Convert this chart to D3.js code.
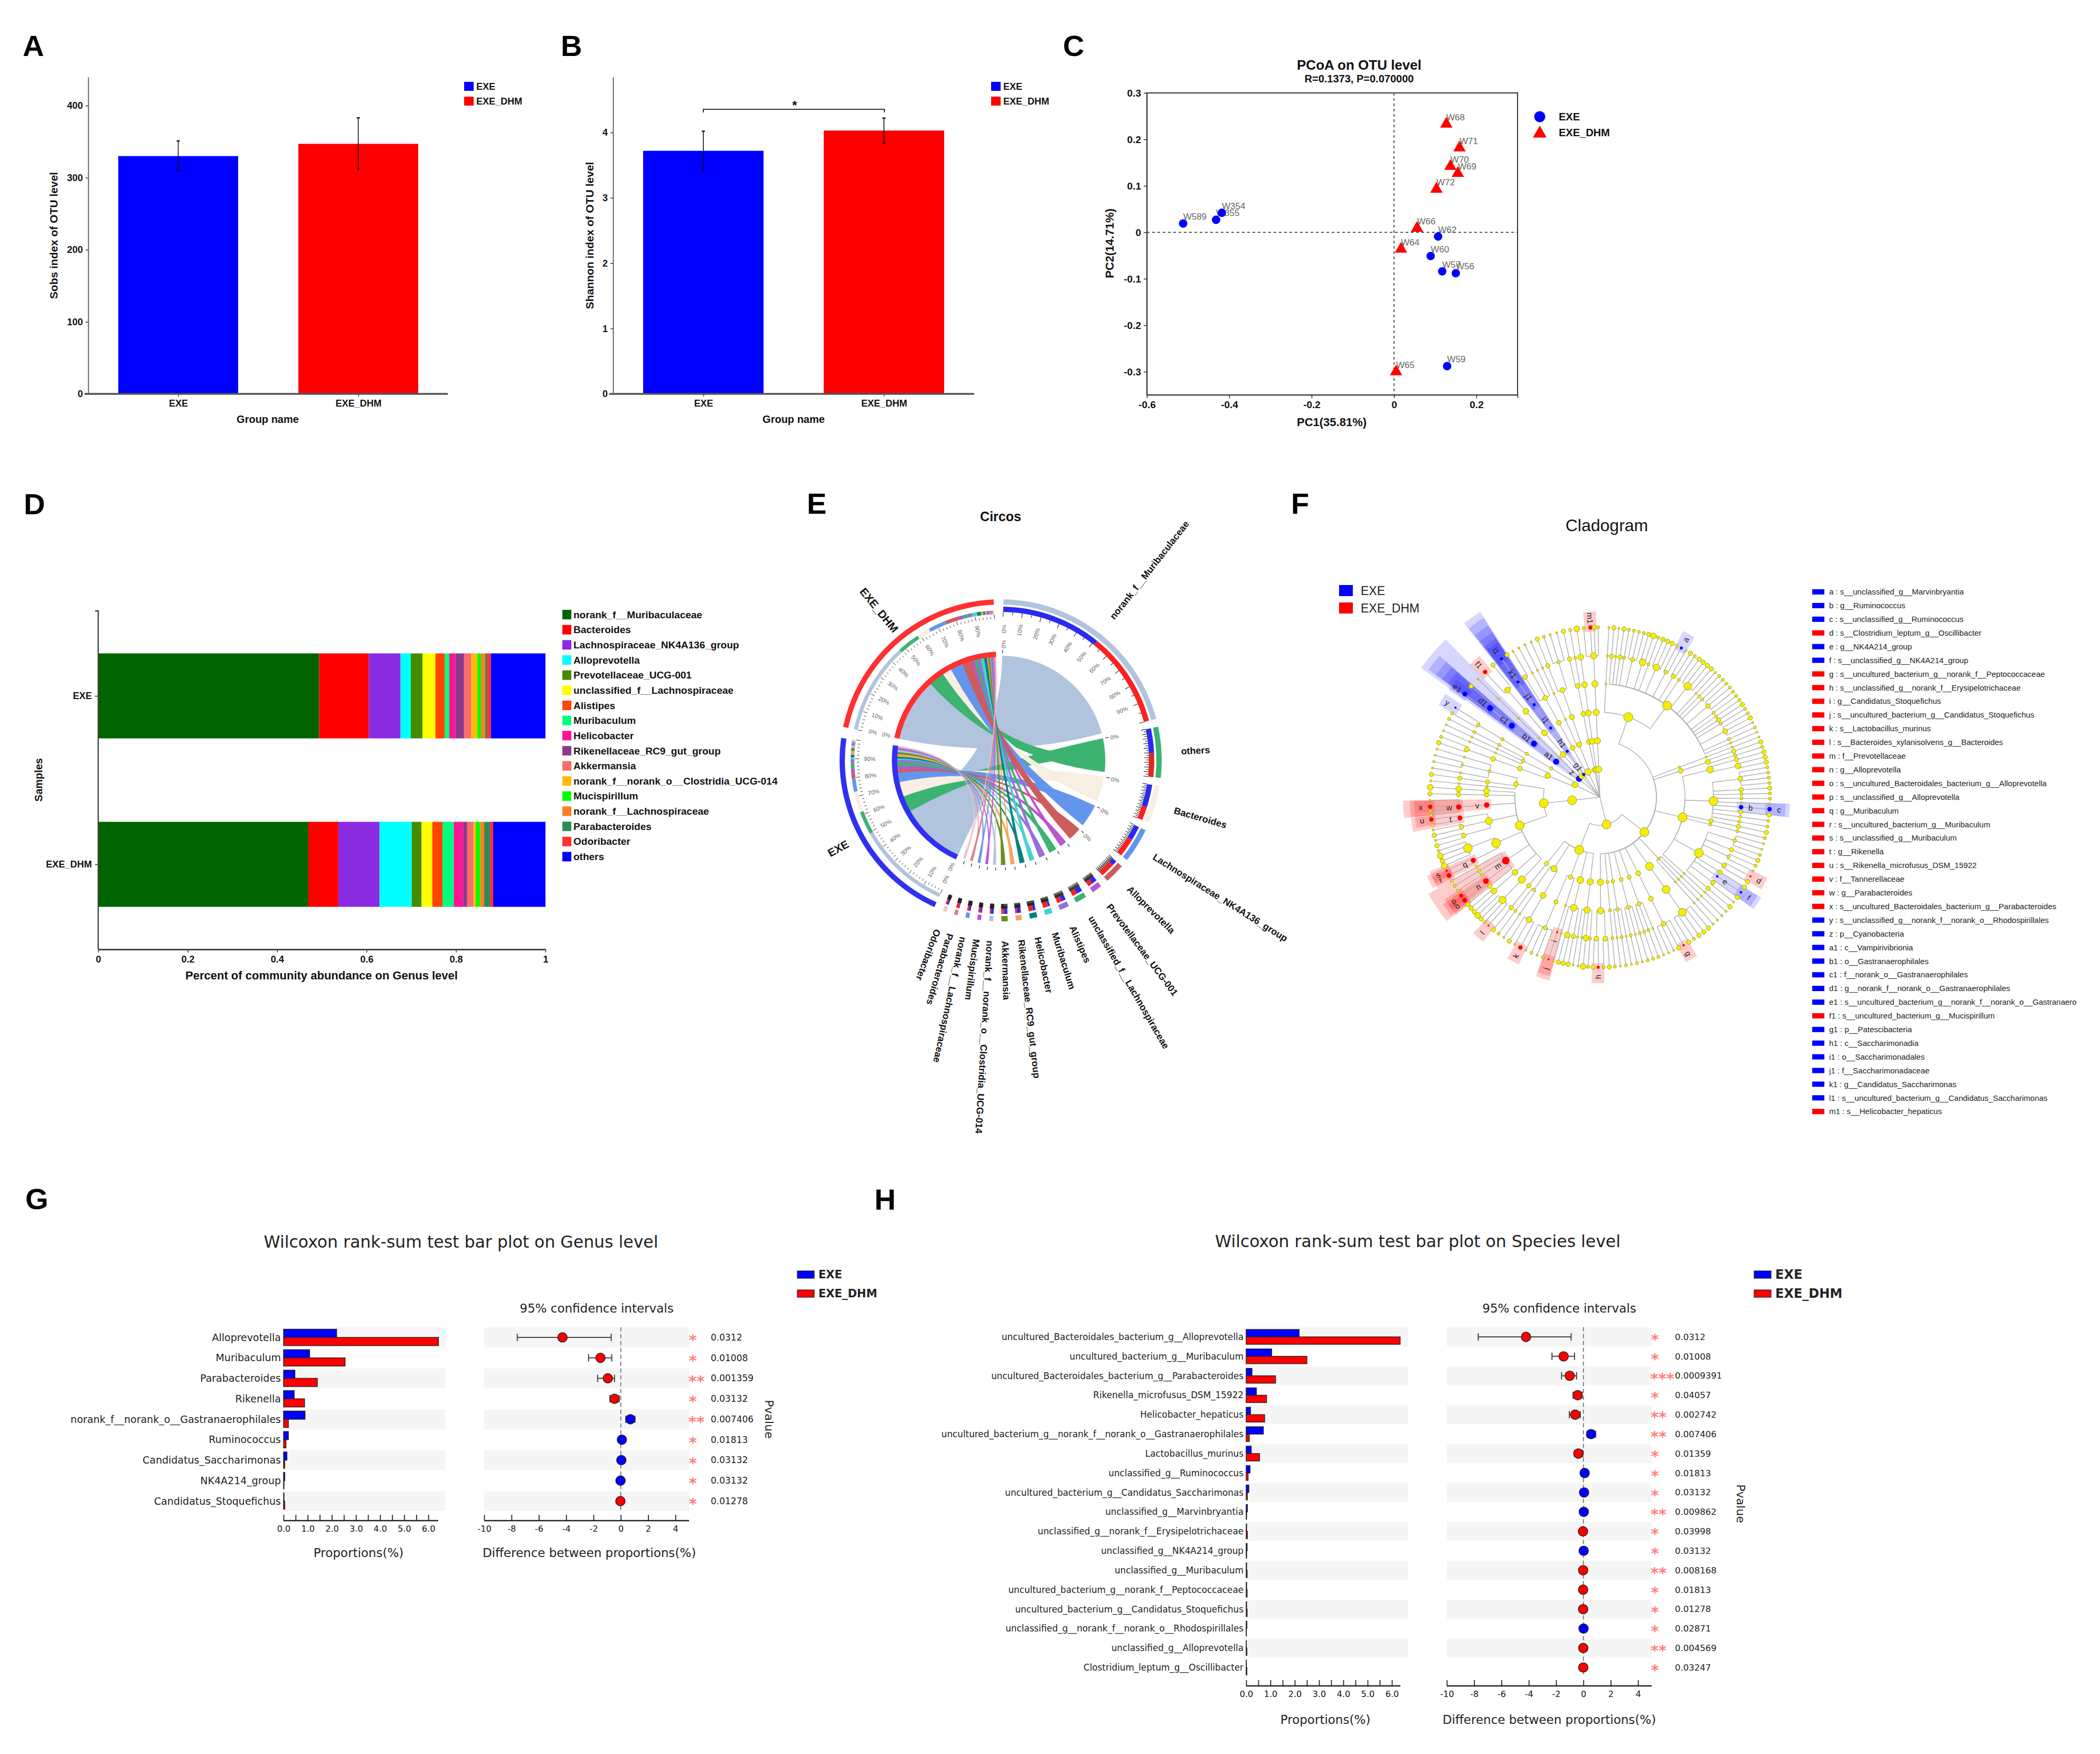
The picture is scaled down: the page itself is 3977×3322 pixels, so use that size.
<!DOCTYPE html>
<html><head><meta charset="utf-8">
<script src="https://cdn.jsdelivr.net/npm/d3@7"></script>
<style>html,body{margin:0;padding:0;background:#fff}svg{display:block}</style>
</head><body><div id="chart"></div>
<script>
// ---------- DATA ----------
const groups = ["EXE", "EXE_DHM"];
const groupColors = ["#0000ff", "#ff0000"];
const sobsMeans = [330, 347];
const sobsLow = [310, 312];
const sobsHigh = [351, 383];
const sobsTicks = [0, 100, 200, 300, 400];
const shannonMeans = [3.72, 4.03];
const shannonLow = [3.42, 3.84];
const shannonHigh = [4.02, 4.22];
const shannonTicks = [0, 1, 2, 3, 4];

const pcoaExeNames = ["W354", "W355", "W589", "W62", "W60", "W57", "W56", "W59"];
const pcoaExeX = [-0.418, -0.432, -0.512, 0.107, 0.089, 0.117, 0.15, 0.129];
const pcoaExeY = [0.042, 0.027, 0.019, -0.009, -0.051, -0.084, -0.088, -0.288];
const pcoaDhmNames = ["W68", "W71", "W70", "W69", "W72", "W66", "W64", "W65"];
const pcoaDhmX = [0.127, 0.159, 0.137, 0.155, 0.103, 0.056, 0.017, 0.005];
const pcoaDhmY = [0.233, 0.182, 0.142, 0.127, 0.093, 0.009, -0.036, -0.3];
const pcoaXTicks = [-0.6, -0.4, -0.2, 0, 0.2, 0.3];
const pcoaYTicks = [-0.3, -0.2, -0.1, 0, 0.1, 0.2, 0.3];

const genusNames = ["norank_f__Muribaculaceae", "Bacteroides", "Lachnospiraceae_NK4A136_group", "Alloprevotella", "Prevotellaceae_UCG-001", "unclassified_f__Lachnospiraceae", "Alistipes", "Muribaculum", "Helicobacter", "Rikenellaceae_RC9_gut_group", "Akkermansia", "norank_f__norank_o__Clostridia_UCG-014", "Mucispirillum", "norank_f__Lachnospiraceae", "Parabacteroides", "Odoribacter", "others"];
const genusColors = ["#006400", "#ff0000", "#8a2be2", "#00ffff", "#458b00", "#ffff00", "#ff4500", "#00ff7f", "#ff1493", "#8b3a8b", "#ff6a6a", "#ffb90f", "#00ff00", "#ff7f24", "#2e8b57", "#ff3030", "#0000ff"];
const genusExe = [0.494, 0.111, 0.071, 0.023, 0.026, 0.029, 0.021, 0.010, 0.014, 0.019, 0.016, 0.014, 0.008, 0.009, 0.004, 0.009, 0.122];
const genusDhm = [0.470, 0.067, 0.092, 0.072, 0.022, 0.024, 0.023, 0.025, 0.021, 0.009, 0.014, 0.005, 0.010, 0.009, 0.013, 0.007, 0.117];
const abundanceTicks = [0, 0.2, 0.4, 0.6, 0.8, 1];

// Circos: genus order around the ring and link colours
const circosOrder = [0, 16, 1, 2, 3, 4, 5, 6, 7, 8, 9, 10, 11, 12, 13, 14, 15];
const circosColors = ["#b0c4de", "#3cb371", "#f8eee2", "#6495ed", "#cd5c5c", "#ba55d3", "#3cb371", "#9370db", "#48d1cc", "#008080", "#f4a460", "#6b8e23", "#b0c4de", "#ba55d3", "#6495ed", "#e08090", "#f4c0cb"];
const circosPercentTicks = [10, 20, 30, 40, 50, 60, 70, 80, 90];

// Cladogram tree: phylum > class > order > family > genus (string of tips: 1-4 = tip size class, capitals = marked tips)
const clostridiaOrders = [
  [["1"], ["3", "1", "3", "2", "222", "34", "2", "333", "2A", "13", "2", "3333", "1", "2", "2", "222", "2", "2", "3", "2", "231", "2", "1"]],
  [["1"]],
  [["3", "2"]],
  [["3", "33"], ["2222", "3", "2", "2", "1", "C", "3", "2", "2"], ["3"], ["2"], ["112", "3", "21", "D3", "3", "F", "31", "3"], ["1"]],
  [["1"], ["1"], ["1"]],
  [["33323"]],
  [["G311"]],
  [["1", "2", "2"]],
  [["2", "1", "2"]],
  [["1", "2", "1"]],
  [["2"]],
  [["32", "H3"]]
];
const bacilliOrders = [
  [["2", "4", "1", "1"]],
  [["3", "33", "1"]],
  [["J"], ["2121"]],
  [["K13"], ["1", "2"]],
  [["3"]]
];
const bacteroidiaOrders = [
  [["L234"], ["33"], ["3", "OP", "2", "2", "2"], ["RS", "4342"], ["31", "31", "2U"], ["22X1"], ["3"], ["4"]],
  [["1"], ["3"], ["1", "11", "1"]]
];
const proteoClasses = [[[["32"]], [["1"], ["1"], ["2"]]], [[["2Y"]]]];
const cyanoClasses = [[[["E3"]]], [[["1"]]]];
const deferriClasses = [[[["Q3"]]]];
const patesciClasses = [[[["T"]]]];
const phylumAClasses = [[[["31", "1", "1"]]], [[["1"]], [["3", "211"]]]];
const phylumBClasses = [[[["3", "2"]]]];
const phylumCClasses = [[[["4"]]]];
const phylumDClasses = [[[["2M32"]]]];
const cladeTree = [[clostridiaOrders, bacilliOrders], [bacteroidiaOrders], proteoClasses, cyanoClasses, deferriClasses, patesciClasses, phylumAClasses, phylumBClasses, phylumCClasses, phylumDClasses];
const tipMarks = {A: ["a"], C: ["c", "b"], D: ["d"], F: ["f", "e"], G: ["g"], H: ["h"], J: ["j", "i"], K: ["k"], L: ["l"], O: ["o", "n", "m"], P: ["p"], R: ["r", "q"], S: ["s"], U: ["u", "t"], X: ["x", "w", "v"], Y: ["y"], E: ["e1", "d1", "c1", "b1", "a1", "z"], Q: ["f1"], T: ["l1", "k1", "j1", "i1", "h1", "g1"], M: ["m1"]};
const tipWeights = {1: 1, 2: 4, 3: 12, 4: 25, A: 4, C: 12, D: 1, F: 2, G: 2, H: 4, J: 1, K: 12, L: 1, O: 16, P: 8, R: 16, S: 2, U: 12, X: 12, Y: 1, E: 16, Q: 12, T: 4, M: 10};
const anchorTips = ["A", "C", "D", "F", "G", "H", "J", "K", "L", "O", "R", "U", "X", "Y", "E", "Q", "T", "M"];
const anchorDegrees = [28.6, 94, 117.7, 124, 150.5, 180.6, 197.6, 207.9, 221, 232.7, 242.6, 262.5, 266.8, 301.8, 307.4, 317.5, 324.6, 356.8];

const cladeKeyLabels = ["a : s__unclassified_g__Marvinbryantia", "b : g__Ruminococcus", "c : s__unclassified_g__Ruminococcus", "d : s__Clostridium_leptum_g__Oscillibacter", "e : g__NK4A214_group", "f : s__unclassified_g__NK4A214_group", "g : s__uncultured_bacterium_g__norank_f__Peptococcaceae", "h : s__unclassified_g__norank_f__Erysipelotrichaceae", "i : g__Candidatus_Stoquefichus", "j : s__uncultured_bacterium_g__Candidatus_Stoquefichus", "k : s__Lactobacillus_murinus", "l : s__Bacteroides_xylanisolvens_g__Bacteroides", "m : f__Prevotellaceae", "n : g__Alloprevotella", "o : s__uncultured_Bacteroidales_bacterium_g__Alloprevotella", "p : s__unclassified_g__Alloprevotella", "q : g__Muribaculum", "r : s__uncultured_bacterium_g__Muribaculum", "s : s__unclassified_g__Muribaculum", "t : g__Rikenella", "u : s__Rikenella_microfusus_DSM_15922", "v : f__Tannerellaceae", "w : g__Parabacteroides", "x : s__uncultured_Bacteroidales_bacterium_g__Parabacteroides", "y : s__unclassified_g__norank_f__norank_o__Rhodospirillales", "z : p__Cyanobacteria", "a1 : c__Vampirivibrionia", "b1 : o__Gastranaerophilales", "c1 : f__norank_o__Gastranaerophilales", "d1 : g__norank_f__norank_o__Gastranaerophilales", "e1 : s__uncultured_bacterium_g__norank_f__norank_o__Gastranaero", "f1 : s__uncultured_bacterium_g__Mucispirillum", "g1 : p__Patescibacteria", "h1 : c__Saccharimonadia", "i1 : o__Saccharimonadales", "j1 : f__Saccharimonadaceae", "k1 : g__Candidatus_Saccharimonas", "l1 : s__uncultured_bacterium_g__Candidatus_Saccharimonas", "m1 : s__Helicobacter_hepaticus"];
const cladeKeyGroups = [0, 0, 0, 1, 0, 0, 1, 1, 1, 1, 1, 1, 1, 1, 1, 1, 1, 1, 1, 1, 1, 1, 1, 1, 0, 0, 0, 0, 0, 0, 0, 1, 0, 0, 0, 0, 0, 0, 1];

// Wilcoxon on genus level
const gRows = ["Alloprevotella", "Muribaculum", "Parabacteroides", "Rikenella", "norank_f__norank_o__Gastranaerophilales", "Ruminococcus", "Candidatus_Saccharimonas", "NK4A214_group", "Candidatus_Stoquefichus"];
const gExe = [2.2, 1.08, 0.47, 0.44, 0.89, 0.2, 0.14, 0.05, 0.02];
const gDhm = [6.42, 2.55, 1.4, 0.87, 0.2, 0.1, 0.05, 0.02, 0.05];
const gDiff = [-4.27, -1.49, -0.95, -0.46, 0.7, 0.08, 0.04, -0.02, -0.03];
const gLow = [-7.58, -2.36, -1.7, -0.79, 0.37, -0.1, -0.1, -0.12, -0.12];
const gHigh = [-0.7, -0.66, -0.46, -0.12, 1.04, 0.25, 0.17, 0.08, 0.06];
const gWinner = [1, 1, 1, 1, 0, 0, 0, 0, 1];
const gStars = ["*", "*", "**", "*", "**", "*", "*", "*", "*"];
const gP = ["0.0312", "0.01008", "0.001359", "0.03132", "0.007406", "0.01813", "0.03132", "0.03132", "0.01278"];

// Wilcoxon on species level
const sRows = ["uncultured_Bacteroidales_bacterium_g__Alloprevotella", "uncultured_bacterium_g__Muribaculum", "uncultured_Bacteroidales_bacterium_g__Parabacteroides", "Rikenella_microfusus_DSM_15922", "Helicobacter_hepaticus", "uncultured_bacterium_g__norank_f__norank_o__Gastranaerophilales", "Lactobacillus_murinus", "unclassified_g__Ruminococcus", "uncultured_bacterium_g__Candidatus_Saccharimonas", "unclassified_g__Marvinbryantia", "unclassified_g__norank_f__Erysipelotrichaceae", "unclassified_g__NK4A214_group", "unclassified_g__Muribaculum", "uncultured_bacterium_g__norank_f__Peptococcaceae", "uncultured_bacterium_g__Candidatus_Stoquefichus", "unclassified_g__norank_f__norank_o__Rhodospirillales", "unclassified_g__Alloprevotella", "Clostridium_leptum_g__Oscillibacter"];
const sExe = [2.18, 1.05, 0.24, 0.42, 0.18, 0.71, 0.21, 0.16, 0.11, 0.05, 0.02, 0.04, 0.02, 0.02, 0.02, 0.03, 0.01, 0.01];
const sDhm = [6.34, 2.5, 1.21, 0.84, 0.76, 0.13, 0.55, 0.08, 0.05, 0.02, 0.05, 0.02, 0.04, 0.04, 0.04, 0.01, 0.03, 0.03];
const sDiff = [-4.2, -1.45, -1, -0.42, -0.6, 0.56, -0.37, 0.09, 0.05, 0.03, -0.03, 0.02, -0.02, -0.02, -0.02, 0.01, -0.01, -0.01];
const sLow = [-7.7, -2.3, -1.6, -0.75, -1.03, 0.28, -0.65, -0.05, -0.05, -0.03, -0.1, -0.03, -0.07, -0.07, -0.07, -0.03, -0.05, -0.05];
const sHigh = [-0.9, -0.65, -0.5, -0.1, -0.23, 0.89, -0.05, 0.2, 0.15, 0.08, 0.02, 0.07, 0.02, 0.02, 0.02, 0.05, 0.02, 0.02];
const sWinner = [1, 1, 1, 1, 1, 0, 1, 0, 0, 0, 1, 0, 1, 1, 1, 0, 1, 1];
const sStars = ["*", "*", "***", "*", "**", "**", "*", "*", "*", "**", "*", "*", "**", "*", "*", "*", "**", "*"];
const sP = ["0.0312", "0.01008", "0.0009391", "0.04057", "0.002742", "0.007406", "0.01359", "0.01813", "0.03132", "0.009862", "0.03998", "0.03132", "0.008168", "0.01813", "0.01278", "0.02871", "0.004569", "0.03247"];
const propTicks = d3.range(0, 6.5, 0.5);
const diffTicks = [-10, -8, -6, -4, -2, 0, 2, 4];

// ---------- HELPERS ----------
const ARIAL = "'Liberation Sans', Arial, sans-serif";
const DEJA = "'DejaVu Sans', sans-serif";
const svg = d3.select("#chart").append("svg").attr("width", 3977).attr("height", 3322).attr("viewBox", "0 0 3977 3322");
svg.append("rect").attr("width", 3977).attr("height", 3322).attr("fill", "#fff");

function txt(g, x, y, s, o = {}) {
  const t = g.append("text").attr("x", x).attr("y", y).attr("dy", o.dy ?? "0.35em").text(s)
    .attr("font-family", o.f || ARIAL).attr("font-size", o.s || 18)
    .attr("font-weight", o.w || "normal").attr("text-anchor", o.a || "start").attr("fill", o.c || "#111");
  if (o.rot !== undefined) t.attr("transform", `rotate(${o.rot} ${x} ${y})`);
  return t;
}
function styleAxis(g, o = {}) {
  g.selectAll("text").attr("font-family", o.f || ARIAL).attr("font-size", o.s || 18)
    .attr("font-weight", o.w || "bold").attr("fill", o.c || "#111");
  g.selectAll("line").attr("stroke", o.stroke || "#222").attr("stroke-width", o.tw || 1.6);
  g.selectAll("path.domain").attr("stroke", o.stroke || "#222").attr("stroke-width", o.dw || 1.6);
  return g;
}
[["A", 43, 106], ["B", 1062, 106], ["C", 2013, 106], ["D", 45, 974], ["E", 1528, 973], ["F", 2445, 973], ["G", 48, 2290], ["H", 1656, 2291]]
  .forEach(d => txt(svg, d[1], d[2], d[0], {s: 56, w: "bold", dy: 0, c: "#000"}));

// ---------- A / B : bars ----------
function barPanel(cfg) {
  const g = svg.append("g");
  const y = d3.scaleLinear().domain([0, cfg.yMax]).range([746, 146]);
  const x = d3.scalePoint().domain(groups).range(cfg.xRange);
  g.selectAll("rect.b").data(groups).join("rect").attr("x", d => x(d) - cfg.bw / 2).attr("width", cfg.bw)
    .attr("y", (d, i) => y(cfg.means[i])).attr("height", (d, i) => y(0) - y(cfg.means[i])).attr("fill", (d, i) => groupColors[i]);
  groups.forEach((d, i) => {
    g.append("line").attr("x1", x(d)).attr("x2", x(d)).attr("y1", y(cfg.low[i])).attr("y2", y(cfg.high[i])).attr("stroke", "#111").attr("stroke-width", 1.6);
    [cfg.low[i], cfg.high[i]].forEach(v => g.append("line").attr("x1", x(d) - 3).attr("x2", x(d) + 3).attr("y1", y(v)).attr("y2", y(v)).attr("stroke", "#111").attr("stroke-width", 2.4));
  });
  const ya = g.append("g").attr("transform", `translate(${cfg.axisX},0)`).call(d3.axisLeft(y).tickValues(cfg.ticks).tickSize(5).tickPadding(5).tickSizeOuter(0).tickFormat(d3.format("~g")));
  styleAxis(ya, {s: 18, stroke: "#444"});
  const xa = g.append("g").attr("transform", "translate(0,746)").call(d3.axisBottom(x).tickSize(5).tickPadding(6).tickSizeOuter(0));
  xa.select("path.domain").remove();
  styleAxis(xa, {s: 18, stroke: "#444"});
  g.append("line").attr("x1", cfg.axisX - 7).attr("x2", cfg.axisEnd).attr("y1", 746).attr("y2", 746).attr("stroke", "#555").attr("stroke-width", 3.5);
  txt(g, cfg.ylabelX, 446, cfg.ylabel, {s: 21, w: "bold", a: "middle", rot: -90});
  txt(g, cfg.xlabelX, 794, "Group name", {s: 20, w: "bold", a: "middle"});
  groups.forEach((d, i) => {
    g.append("rect").attr("x", cfg.legendX).attr("y", 155 + i * 28).attr("width", 18).attr("height", 17).attr("fill", groupColors[i]);
    txt(g, cfg.legendX + 23, 163.5 + i * 28, d, {s: 18, w: "bold"});
  });
  return {g, x, y};
}
barPanel({yMax: 439.6, means: sobsMeans, low: sobsLow, high: sobsHigh, ticks: sobsTicks, xRange: [337.5, 678.5], bw: 227, axisX: 167, axisEnd: 848, ylabel: "Sobs index of OTU level", ylabelX: 102, xlabelX: 507, legendX: 879});
const bp = barPanel({yMax: 4.848, means: shannonMeans, low: shannonLow, high: shannonHigh, ticks: shannonTicks, xRange: [1332, 1674], bw: 228, axisX: 1161, axisEnd: 1845, ylabel: "Shannon index of OTU level", ylabelX: 1117, xlabelX: 1503, legendX: 1877});
bp.g.append("path").attr("d", "M1332 213V207H1675V213").attr("fill", "none").attr("stroke", "#333").attr("stroke-width", 2);
txt(bp.g, 1505, 200, "*", {s: 24, w: "bold", a: "middle"});

// ---------- C : PCoA ----------
(function () {
  const g = svg.append("g");
  const x = d3.scaleLinear().domain([-0.6, 0.3]).range([2172, 2874]);
  const y = d3.scaleLinear().domain([-0.35, 0.3]).range([748, 176]);
  g.append("rect").attr("x", 2172).attr("y", 176).attr("width", 702).attr("height", 572).attr("fill", "none").attr("stroke", "#333").attr("stroke-width", 2);
  g.append("line").attr("x1", x(0)).attr("x2", x(0)).attr("y1", 176).attr("y2", 748).attr("stroke", "#555").attr("stroke-width", 2).attr("stroke-dasharray", "5 5");
  g.append("line").attr("x1", 2172).attr("x2", 2874).attr("y1", y(0)).attr("y2", y(0)).attr("stroke", "#555").attr("stroke-width", 2).attr("stroke-dasharray", "5 5");
  const xa = g.append("g").attr("transform", "translate(0,748)").call(d3.axisBottom(x).tickValues(pcoaXTicks).tickSize(6).tickPadding(6).tickSizeOuter(0).tickFormat(d => d === 0.3 ? "" : d3.format("~g")(d).replace("−", "-")));
  styleAxis(xa, {s: 19, stroke: "#333"});
  const ya = g.append("g").attr("transform", "translate(2172,0)").call(d3.axisLeft(y).tickValues(pcoaYTicks).tickSize(6).tickPadding(5).tickSizeOuter(0).tickFormat(d => d3.format("~g")(d).replace("−", "-")));
  styleAxis(ya, {s: 19, stroke: "#333"});
  txt(g, 2574, 123, "PCoA on OTU level", {s: 26, w: "bold", a: "middle"});
  txt(g, 2574, 149, "R=0.1373, P=0.070000", {s: 20, w: "bold", a: "middle"});
  txt(g, 2522, 799, "PC1(35.81%)", {s: 22, w: "bold", a: "middle"});
  txt(g, 2101, 461, "PC2(14.71%)", {s: 22, w: "bold", a: "middle", rot: -90});
  const tri = d3.symbol().type(d3.symbolTriangle).size(240);
  pcoaDhmNames.forEach((n, i) => txt(g, x(pcoaDhmX[i]), y(pcoaDhmY[i]) - 13, n, {s: 17, c: "#666"}));
  pcoaExeNames.forEach((n, i) => txt(g, x(pcoaExeX[i]), y(pcoaExeY[i]) - 13, n, {s: 17, c: "#666"}));
  g.selectAll("path.t").data(pcoaDhmNames).join("path").attr("d", tri).attr("fill", "#ff0000")
    .attr("transform", (d, i) => `translate(${x(pcoaDhmX[i])},${y(pcoaDhmY[i])})`);
  g.selectAll("circle.e").data(pcoaExeNames).join("circle").attr("r", 8).attr("fill", "#0000ff")
    .attr("cx", (d, i) => x(pcoaExeX[i])).attr("cy", (d, i) => y(pcoaExeY[i]));
  g.append("circle").attr("cx", 2916).attr("cy", 221).attr("r", 10.5).attr("fill", "#0000ff");
  g.append("path").attr("d", tri).attr("fill", "#ff0000").attr("transform", "translate(2916,253) scale(1.1)");
  txt(g, 2952, 221, "EXE", {s: 20, w: "bold"});
  txt(g, 2952, 251, "EXE_DHM", {s: 20, w: "bold"});
})();

// ---------- D : stacked bars ----------
(function () {
  const g = svg.append("g");
  const x = d3.scaleLinear().domain([0, 1]).range([186, 1033]);
  const y = d3.scalePoint().domain(groups).range([1318, 1637]);
  const stack = d3.stack().keys(d3.range(genusNames.length)).value((row, k) => row[k]);
  const layers = stack([genusExe, genusDhm]);
  layers.forEach((layer, k) => g.selectAll(null).data(layer).join("rect")
    .attr("x", d => x(d[0])).attr("width", d => x(d[1]) - x(d[0]))
    .attr("y", (d, i) => y(groups[i]) - 80.5).attr("height", 161).attr("fill", genusColors[k]));
  const ya = g.append("g").attr("transform", "translate(186,0)").call(d3.axisLeft(y).tickSize(6).tickPadding(6).tickSizeOuter(0));
  ya.select("path.domain").remove();
  styleAxis(ya, {s: 18, stroke: "#333"});
  g.append("path").attr("d", "M180 1157H186V1798").attr("fill", "none").attr("stroke", "#444").attr("stroke-width", 2.4);
  const xa = g.append("g").attr("transform", "translate(0,1798)").call(d3.axisBottom(x).tickValues(abundanceTicks).tickSize(6).tickPadding(6).tickSizeOuter(0).tickFormat(d3.format("~g")));
  styleAxis(xa, {s: 18, stroke: "#444", dw: 3});
  txt(g, 73, 1477, "Samples", {s: 20, w: "bold", a: "middle", rot: -90});
  txt(g, 609, 1847, "Percent of community abundance on Genus level", {s: 22, w: "bold", a: "middle"});
  genusNames.forEach((n, i) => {
    g.append("rect").attr("x", 1065).attr("y", 1155 + i * 28.65).attr("width", 17).attr("height", 18).attr("fill", genusColors[i]);
    txt(g, 1086, 1164 + i * 28.65, n, {s: 19, w: "bold"});
  });
})();

// ---------- E : Circos ----------
(function () {
  const cx = 1895, cy = 1440, rad = Math.PI / 180;
  const g = svg.append("g").attr("transform", `translate(${cx},${cy})`);
  txt(svg, 1895, 978, "Circos", {s: 25, w: "bold", a: "middle"});
  const arc = d3.arc();
  const degPerUnit = 76.8, gap = 2.9;
  const genusSegs = [];
  let cursor = 1;
  circosOrder.forEach((gi, k) => {
    const e = genusExe[gi] * degPerUnit, d = genusDhm[gi] * degPerUnit;
    genusSegs.push({gi, k, a0: cursor, a1: cursor + e + d, mid: cursor + e, color: circosColors[k]});
    cursor += e + d + gap;
  });
  const sampleSegs = [{name: "EXE", a0: 204.3, a1: 278, share: genusExe, color: "#3030f0"}, {name: "EXE_DHM", a0: 282, a1: 357.5, share: genusDhm, color: "#ff3030"}];
  const A = (ri, ro, a0, a1) => arc({innerRadius: ri, outerRadius: ro, startAngle: a0 * rad, endAngle: a1 * rad});
  const ribbon = d3.ribbon().radius(198);
  sampleSegs.forEach(s => {
    s.scale = d3.scaleLinear().domain([0, 1]).range([s.a0, s.a1]);
    let acc = 0;
    s.parts = circosOrder.map((gi, k) => {
      const p = {k, a0: s.scale(acc), a1: s.scale(acc + s.share[gi])};
      acc += s.share[gi];
      return p;
    });
  });
  const links = [];
  genusSegs.forEach((seg, k) => {
    links.push({color: seg.color, source: {startAngle: seg.a0 * rad, endAngle: seg.mid * rad}, target: {startAngle: sampleSegs[0].parts[k].a0 * rad, endAngle: sampleSegs[0].parts[k].a1 * rad}});
    links.push({color: seg.color, source: {startAngle: seg.mid * rad, endAngle: seg.a1 * rad}, target: {startAngle: sampleSegs[1].parts[k].a0 * rad, endAngle: sampleSegs[1].parts[k].a1 * rad}});
  });
  g.selectAll("path.l").data(links).join("path").attr("d", d => ribbon(d)).attr("fill", d => d.color).attr("stroke", d => d.color).attr("stroke-width", 0.6);
  sampleSegs.forEach(s => {
    g.append("path").attr("d", A(295, 305, s.a0, s.a1)).attr("fill", s.color);
    g.append("path").attr("d", A(196, 206, s.a0, s.a1)).attr("fill", s.color);
    s.parts.forEach(p => g.append("path").attr("d", A(277, 284, p.a0, p.a1)).attr("fill", circosColors[p.k]));
    d3.range(0, 1.001, 0.02).forEach((v, i) => {
      const t = s.scale(v) * rad;
      g.append("line").attr("x1", 268 * Math.sin(t)).attr("y1", -268 * Math.cos(t)).attr("x2", (i % 5 ? 272 : 276) * Math.sin(t)).attr("y2", -(i % 5 ? 272 : 276) * Math.cos(t)).attr("stroke", "#333").attr("stroke-width", 1);
    });
    circosPercentTicks.forEach(v => radialLabel(s.scale(v / 100), 248, v + "%"));
    radialLabel(s.a0 + 0.5, 248, "0%");
    radialLabel(s.a0 + 0.5, 222, "0%");
    const labelA = s.name === "EXE" ? 241.5 : 321;
    const r = s.name === "EXE" ? 350 : 366;
    txt(g, r * Math.sin(labelA * rad), -r * Math.cos(labelA * rad), s.name, {s: 21, w: "bold", a: "middle", rot: labelA - 270});
  });
  function radialLabel(a, r, s) {
    const x = r * Math.sin(a * rad), y = -r * Math.cos(a * rad);
    txt(g, x, y, s, {s: 11, c: "#666", a: "middle", rot: a < 180 ? a - 90 : a - 270});
  }
  genusSegs.forEach(seg => {
    g.append("path").attr("d", A(295, 305, seg.a0, seg.a1)).attr("fill", seg.color);
    g.append("path").attr("d", A(281, 291, seg.a0, seg.mid)).attr("fill", "#2a2af0");
    g.append("path").attr("d", A(281, 291, seg.mid, seg.a1)).attr("fill", seg.k === 1 ? "#e02818" : "#ff2020");
    const s = d3.scaleLinear().domain([0, 1]).range([seg.a0, seg.a1]);
    d3.range(0, 1.001, 0.05).forEach((v, i) => {
      const t = s(v) * rad, ri = i % 2 ? 276 : 272;
      g.append("line").attr("x1", ri * Math.sin(t)).attr("y1", -ri * Math.cos(t)).attr("x2", 281 * Math.sin(t)).attr("y2", -281 * Math.cos(t)).attr("stroke", "#222").attr("stroke-width", 1.1);
    });
    const t0 = seg.a0 * rad;
    g.append("line").attr("x1", 203 * Math.sin(t0)).attr("y1", -203 * Math.cos(t0)).attr("x2", 209 * Math.sin(t0)).attr("y2", -209 * Math.cos(t0)).attr("stroke", "#222").attr("stroke-width", 1.2);
    if (seg.a1 - seg.a0 > 5) radialLabel(seg.a0 + 0.5, 220, "0%");
    const m = (seg.a0 + seg.a1) / 2;
    txt(g, 342 * Math.sin(m * rad), -342 * Math.cos(m * rad), genusNames[seg.gi], {s: 18, w: "bold", rot: m - 90});
  });
  const norank = genusSegs[0];
  const ns = d3.scaleLinear().domain([0, 100]).range([norank.a0, norank.a1]);
  circosPercentTicks.forEach(v => radialLabel(ns(v), 249, v + "%"));
  radialLabel(norank.a0 + 0.5, 249, "0%");
})();

// ---------- F : Cladogram ----------
(function () {
  const cx = 3030, cy = 1510, rad = Math.PI / 180;
  const levelRadii = [0, 53, 107, 161, 215, 268, 322];
  const outerByDepth = [0, 418, 405, 388, 373, 360, 352];
  const halfByDepth = [0, 2.6, 2.4, 2.3, 2.2, 2.1, 2];
  const toNode = d => Array.isArray(d) ? {children: d.map(toNode)} : {children: [...d].map(c => ({tip: c}))};
  const root = d3.hierarchy(toNode(cladeTree));
  d3.cluster().nodeSize([1, 1]).separation(() => 1)(root);
  const leaves = root.leaves();
  const anchorLeaves = anchorTips.map(k => leaves.find(l => l.data.tip === k));
  const angle = d3.scaleLinear()
    .domain([leaves[0].x, ...anchorLeaves.map(l => l.x), leaves[leaves.length - 1].x])
    .range([3, ...anchorDegrees, 359.4]);
  root.each(n => { n.a = angle(n.x); n.r = levelRadii[n.depth]; });
  root.sum(d => d.tip ? tipWeights[d.tip] : 0);
  leaves.forEach(l => {
    const lineage = tipMarks[l.data.tip];
    if (!lineage) return;
    let n = l;
    lineage.forEach(label => { n.label = label; n = n.parent; });
  });
  const keyCode = cladeKeyLabels.map(s => s.split(" : ")[0]);
  const colorOf = label => cladeKeyGroups[keyCode.indexOf(label)];
  const size = d3.scaleSqrt().domain([1, 70]).range([2, 8.5]).clamp(true);
  const g = svg.append("g").attr("transform", `translate(${cx},${cy})`);
  const P = (a, r) => [r * Math.sin(a * rad), -r * Math.cos(a * rad)];
  const marked = root.descendants().filter(n => n.label);
  const arc = d3.arc();
  marked.slice().sort((a, b) => a.depth - b.depth).forEach(n => {
    const ls = n.leaves().map(l => l.a);
    const span = d3.max(ls) - d3.min(ls);
    const half = n.label === "z" ? 4.9 : Math.max(halfByDepth[n.depth], span / 2);
    const center = n.children ? (d3.max(ls) + d3.min(ls)) / 2 : n.a;
    g.append("path").attr("d", arc({innerRadius: Math.max(n.r - 8, 30), outerRadius: outerByDepth[n.depth], startAngle: (center - half) * rad, endAngle: (center + half) * rad}))
      .attr("fill", groupColors[colorOf(n.label)]).attr("fill-opacity", colorOf(n.label) ? 0.2 : 0.16);
  });
  const links = root.links();
  g.selectAll("path.link").data(links).join("path").attr("fill", "none").attr("stroke", "#aeaeae").attr("stroke-width", 1.4)
    .attr("d", ({source: p, target: c}) => {
      const ctx = d3.path();
      ctx.moveTo(...P(c.a, c.r));
      ctx.lineTo(...P(c.a, p.r));
      if (p.r > 0) ctx.arc(0, 0, p.r, (c.a - 90) * rad, (p.a - 90) * rad, c.a > p.a);
      return ctx.toString();
    });
  const nodes = root.descendants().filter(n => n.depth > 0).sort((a, b) => a.depth - b.depth);
  g.selectAll("circle.n").data(nodes).join("circle")
    .attr("cx", n => P(n.a, n.r)[0]).attr("cy", n => P(n.a, n.r)[1])
    .attr("r", n => size(n.value))
    .attr("fill", n => n.label ? groupColors[colorOf(n.label)] : "#f6ee00")
    .attr("stroke", n => n.label ? "none" : "#8d8d22").attr("stroke-width", 0.9);
  marked.forEach(n => {
    const [x, y] = P(n.a, n.r + 18);
    const rot = n.a < 180 ? n.a - 90 : n.a - 270;
    txt(g, x, y, n.label, {s: 15, a: "middle", c: "#222", rot});
  });
  txt(svg, 3043, 995, "Cladogram", {s: 32, a: "middle", c: "#111"});
  groups.forEach((d, i) => {
    svg.append("rect").attr("x", 2536).attr("y", 1108 + i * 33).attr("width", 26).attr("height", 21).attr("fill", groupColors[i]);
    txt(svg, 2577, 1118.5 + i * 33, d, {s: 23, c: "#222"});
  });
  cladeKeyLabels.forEach((s, i) => {
    svg.append("rect").attr("x", 3432).attr("y", 1116 + i * 25.9).attr("width", 23).attr("height", 10).attr("fill", groupColors[cladeKeyGroups[i]]);
    txt(svg, 3464, 1121 + i * 25.9, s, {s: 15, c: "#222"});
  });
})();

// ---------- G / H : Wilcoxon ----------
function wilcoxon(c) {
  const g = svg.append("g");
  const n = c.rows.length;
  const rowY = i => c.y0 + i * c.step;
  const xP = d3.scaleLinear().domain([0, 6]).range([c.propX, c.propX + 6 * c.propUnit]);
  const xD = d3.scaleLinear().domain([-10, 5]).range([c.diffLeft, c.diffRight]);
  const axisTop = c.axisY;
  c.rows.forEach((r, i) => {
    if (i % 2 === 0) {
      g.append("rect").attr("x", c.propX).attr("width", c.bandEnd - c.propX).attr("y", rowY(i) - c.step / 2 + 0.5).attr("height", c.step - 1).attr("fill", "#f5f5f5");
      g.append("rect").attr("x", c.diffLeft).attr("width", c.diffRight - c.diffLeft).attr("y", rowY(i) - c.step / 2 + 0.5).attr("height", c.step - 1).attr("fill", "#f5f5f5");
    }
  });
  g.append("line").attr("x1", xD(0)).attr("x2", xD(0)).attr("y1", rowY(0) - c.step / 2).attr("y2", rowY(n - 1) + c.step / 2).attr("stroke", "#666").attr("stroke-width", 1.6).attr("stroke-dasharray", "8 5");
  c.rows.forEach((r, i) => {
    txt(g, c.propX - 5, rowY(i), r, {f: DEJA, s: c.labelSize, a: "end", c: "#222"});
    g.append("rect").attr("x", xP(0)).attr("y", rowY(i) - c.barH).attr("width", Math.max(xP(c.exe[i]) - xP(0), 0.5)).attr("height", c.barH).attr("fill", "#0000ff").attr("stroke", "#222").attr("stroke-width", 1.4);
    g.append("rect").attr("x", xP(0)).attr("y", rowY(i)).attr("width", Math.max(xP(c.dhm[i]) - xP(0), 0.5)).attr("height", c.barH).attr("fill", "#ff0000").attr("stroke", "#222").attr("stroke-width", 1.4);
    const half = 7;
    g.append("line").attr("x1", xD(c.low[i])).attr("x2", xD(c.high[i])).attr("y1", rowY(i)).attr("y2", rowY(i)).attr("stroke", "#444").attr("stroke-width", 2);
    [c.low[i], c.high[i]].forEach(v => g.append("line").attr("x1", xD(v)).attr("x2", xD(v)).attr("y1", rowY(i) - half).attr("y2", rowY(i) + half).attr("stroke", "#444").attr("stroke-width", 2));
    g.append("circle").attr("cx", xD(c.diff[i])).attr("cy", rowY(i)).attr("r", 9).attr("fill", groupColors[c.winner[i]]).attr("stroke", "#222").attr("stroke-width", 1.4);
    txt(g, c.starX + (c.stars[i].length - 1) * 7, rowY(i) + 15, c.stars[i], {f: DEJA, s: 29, c: "#ff8080", a: "middle", dy: 0, w: "bold"});
    txt(g, c.pX, rowY(i), c.p[i], {f: DEJA, s: c.pSize, c: "#222"});
  });
  const ax1 = g.append("g").attr("transform", `translate(0,${axisTop})`).call(d3.axisBottom(xP).tickValues(propTicks).tickSize(-11).tickPadding(0).tickSizeOuter(0).tickFormat(d => d % 1 === 0 ? d3.format(".1f")(d) : ""));
  ax1.select("path.domain").attr("d", `M${c.propX},0H${xP(c.propEnd)}`);
  styleAxis(ax1, {f: DEJA, s: 16, w: "normal", stroke: "#222", dw: 2.4, tw: 1.8});
  ax1.selectAll("text").attr("y", 10).attr("dy", "0.71em");
  const ax2 = g.append("g").attr("transform", `translate(0,${axisTop})`).call(d3.axisBottom(xD).tickValues(diffTicks).tickSize(-11).tickPadding(0).tickSizeOuter(0).tickFormat(d => String(d)));
  ax2.select("path.domain").attr("d", `M${c.diffLeft},0H${c.diffRight}`);
  styleAxis(ax2, {f: DEJA, s: 16, w: "normal", stroke: "#222", dw: 2.4, tw: 1.8});
  ax2.selectAll("text").attr("y", 10).attr("dy", "0.71em");
  txt(g, c.titleX, c.titleY, c.title, {f: DEJA, s: 31.5, a: "middle", c: "#222"});
  txt(g, c.ciX, 2478, "95% confidence intervals", {f: DEJA, s: 23, a: "middle", c: "#222"});
  txt(g, c.propLabelX, c.labelY, "Proportions(%)", {f: DEJA, s: 23, a: "middle", c: "#222"});
  txt(g, c.diffLabelX, c.labelY, "Difference between proportions(%)", {f: DEJA, s: 23, a: "middle", c: "#222"});
  txt(g, c.pvalX, c.pvalY, "Pvalue", {f: DEJA, s: 22, a: "middle", rot: 90, c: "#222"});
  groups.forEach((d, i) => {
    g.append("rect").attr("x", c.legendX).attr("y", 2407 + i * 36).attr("width", 32).attr("height", 14).attr("fill", groupColors[i]).attr("stroke", "#222").attr("stroke-width", 1.2);
    txt(g, c.legendX + 40, 2414 + i * 36, d, {f: DEJA, s: c.legendSize, w: "bold", c: "#222"});
  });
}
wilcoxon({rows: gRows, exe: gExe, dhm: gDhm, diff: gDiff, low: gLow, high: gHigh, winner: gWinner, stars: gStars, p: gP,
  y0: 2533, step: 38.75, barH: 15.5, propX: 537, propUnit: 45.7, propEnd: 6.41, bandEnd: 843, diffLeft: 917, diffRight: 1305, axisY: 2880,
  labelSize: 19, pSize: 17, starX: 1312, pX: 1346, title: "Wilcoxon rank-sum test bar plot on Genus level", titleX: 873, titleY: 2352, ciX: 1130,
  propLabelX: 679, diffLabelX: 1116, labelY: 2941, pvalX: 1457, pvalY: 2688, legendX: 1510, legendSize: 21});
wilcoxon({rows: sRows, exe: sExe, dhm: sDhm, diff: sDiff, low: sLow, high: sHigh, winner: sWinner, stars: sStars, p: sP,
  y0: 2532, step: 36.83, barH: 14, propX: 2360, propUnit: 46, propEnd: 6.35, bandEnd: 2667, diffLeft: 2740, diffRight: 3128, axisY: 3193,
  labelSize: 16.8, pSize: 16.5, starX: 3134, pX: 3172, title: "Wilcoxon rank-sum test bar plot on Species level", titleX: 2685, titleY: 2351, ciX: 2953,
  propLabelX: 2510, diffLabelX: 2934, labelY: 3257, pvalX: 3297, pvalY: 2848, legendX: 3322, legendSize: 24});
</script></body></html>
